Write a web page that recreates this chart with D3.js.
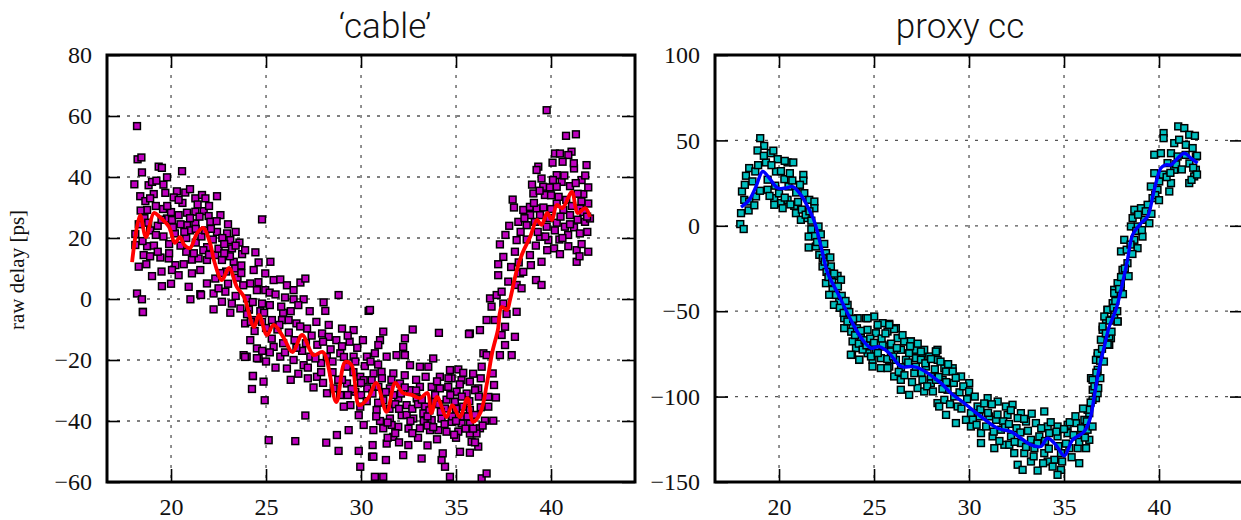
<!DOCTYPE html>
<html>
<head>
<meta charset="utf-8">
<script src="https://cdn.jsdelivr.net/npm/d3@7"></script>
<style>
  html, body { margin: 0; padding: 0; background: #fff; }
  svg { display: block; }
</style>
</head>
<body>
<div id="chart"></div>
<script>
// ---- Data ----
const titles = ['\u2018cable\u2019', 'proxy cc'];
const xTicks = [20, 25, 30, 35, 40];
const cableYTicks = [-60, -40, -20, 0, 20, 40, 60, 80];
const proxyYTicks = [-150, -100, -50, 0, 50, 100];

// raw 'cable' delay samples [temperature, ps]
const cablePoints = [
  [18.21,56.7],[18.24,45.8],[18.44,46.4],[18.47,41.5],[18.07,37.6],[19.35,43.4],[19.52,43.0],[20.58,41.9],
  [19.79,39.9],[18.82,37.3],[19.0,38.4],[19.23,38.8],[18.38,33.7],[18.65,32.1],[19.09,34.4],[19.7,34.8],
  [20.31,35.3],[20.75,34.9],[20.14,33.3],[21.28,33.0],[21.63,34.1],[21.81,33.0],[22.42,33.7],[19.58,29.5],
  [18.74,29.2],[20.84,28.3],[21.28,28.6],[21.72,28.8],[21.98,27.2],[19.79,26.4],[20.05,25.9],[20.84,24.2],
  [21.28,24.8],[22.07,25.3],[22.42,22.0],[22.95,21.5],[24.79,26.1],[18.12,21.3],[18.12,17.7],[18.74,17.3],
  [18.56,14.4],[18.3,10.6],[18.7,11.4],[19.44,13.6],[19.88,13.3],[20.23,11.1],[20.67,11.4],[21.1,12.9],
  [21.45,13.3],[21.89,12.8],[20.05,9.5],[20.4,7.8],[21.1,8.4],[21.54,9.5],[22.33,14.4],[22.68,12.8],
  [23.12,19.3],[23.21,16.6],[23.74,14.7],[23.3,12.2],[23.38,10.0],[21.89,5.1],[22.33,6.7],[20.93,4.0],
  [19.52,4.2],[18.21,1.8],[18.47,-0.1],[18.52,-4.2],[21.02,-0.1],[21.54,1.6],[22.24,1.8],[22.24,-3.4],
  [22.68,-0.9],[22.86,2.4],[23.12,-4.5],[23.65,-3.1],[24.0,0.2],[24.44,15.3],[24.61,12.0],[24.96,8.4],
  [25.23,12.2],[24.35,9.5],[24.17,5.1],[24.52,2.9],[24.79,-1.5],[24.96,2.9],[25.19,2.1],[25.4,6.2],
  [25.75,6.4],[26.1,4.5],[26.45,2.9],[26.81,5.4],[27.07,6.7],[26.98,-0.1],[26.45,-0.1],[28.03,-1.1],
  [28.12,-3.9],[28.82,1.3],[30.4,-3.9],[24.35,-6.9],[24.79,-7.5],[25.31,-6.9],[25.84,-6.9],[26.19,-6.9],
  [26.6,-8.0],[27.16,-9.7],[27.65,-7.5],[27.95,-11.3],[28.3,-12.4],[29.0,-9.7],[29.61,-10.2],[24.17,-13.5],
  [24.52,-16.2],[23.98,-18.9],[23.82,-18.4],[24.61,-19.5],[25.4,-15.7],[25.75,-18.9],[26.1,-22.8],[26.45,-20.0],
  [26.98,-21.7],[27.33,-18.9],[27.68,-25.5],[28.21,-30.9],[28.56,-29.3],[28.91,-17.8],[29.26,-22.2],[29.61,-18.9],
  [29.96,-25.5],[30.31,-18.9],[30.66,-24.4],[24.31,-25.3],[24.87,-27.1],[24.26,-29.5],[24.93,-33.2],[27.07,-38.2],
  [29.44,-34.8],[29.88,-38.1],[30.14,-41.3],[29.35,-43.0],[28.73,-44.6],[28.17,-47.1],[28.82,-49.8],[29.88,-49.8],
  [25.14,-46.3],[26.54,-46.6],[29.96,-55.0],[30.58,-51.7],[29.26,-27.7],[29.7,-30.4],[30.14,-26.6],[30.33,-29.3],
  [29.96,-35.3],[29.09,-35.3],[23.89,-19.0],[24.52,-19.4],[24.31,-25.2],[21.58,1.3],[18.52,-4.3],
  [39.77,61.9],[40.79,53.5],[41.31,54.0],[40.21,47.7],[40.47,47.7],[41.08,48.3],[40.91,47.2],[39.33,43.4],
  [39.24,42.3],[40.08,44.7],[40.61,45.0],[41.21,42.8],[41.87,43.9],[40.3,40.6],[41.61,39.0],[40.56,38.4],
  [39.59,36.8],[39.94,36.6],[40.3,36.8],[41.0,37.0],[41.7,34.4],[41.96,36.6],[39.07,34.6],[39.68,34.1],
  [37.98,32.6],[38.05,30.0],[38.54,29.2],[38.89,30.2],[39.24,29.7],[39.42,27.5],[40.3,31.3],[40.65,29.2],
  [41.0,27.5],[41.52,29.7],[41.96,31.3],[38.28,25.3],[38.72,24.2],[39.15,25.3],[39.77,23.7],[40.3,25.0],
  [40.73,23.7],[41.21,23.5],[41.79,25.3],[42.05,26.4],[41.52,21.5],[41.91,22.0],[38.19,19.3],[38.72,19.5],
  [39.42,20.4],[39.86,19.3],[40.16,16.6],[40.44,19.5],[40.91,17.3],[41.35,16.0],[41.61,18.0],[41.96,15.5],
  [40.47,14.7],[41.35,12.2],[37.31,17.9],[37.49,13.8],[37.22,11.4],[38.89,14.4],[38.94,11.1],[39.5,12.2],
  [37.22,7.8],[38.37,8.4],[38.54,8.9],[37.75,5.7],[38.19,4.6],[38.45,3.5],[39.21,6.2],[39.5,4.6],
  [36.79,0.2],[37.14,1.3],[37.4,2.4],[36.87,-2.5],[37.49,-1.5],[37.66,-4.9],[38.19,-4.2],[36.61,-6.9],
  [37.05,-6.9],[37.58,-9.1],[37.4,-11.8],[38.1,-12.4],[36.26,-10.2],[35.73,-11.3],[37.58,-15.1],[37.31,-18.4],
  [37.93,-18.4],[36.44,-17.8],[36.61,-18.4],[36.35,-22.2],[36.93,-24.4],[37.0,-28.2],[36.7,-32.1],[37.1,-32.3],
  [36.7,-35.3],[36.96,-39.9],[36.52,-39.9],[36.26,-42.4],[36.08,-44.1],[35.82,-46.8],[36.17,-48.4],[35.73,-50.4],
  [36.35,-58.8],[36.61,-57.2],[35.21,-50.1],[34.68,-58.3],[34.42,-55.0],[34.24,-52.8],[34.3,-50.6],[33.19,-52.3],
  [32.22,-51.2],[32.49,-47.9],[31.31,-52.8],[31.35,-47.4],[30.73,-58.3],[31.17,-58.3],[30.65,-51.7],[30.61,-47.9],
  [31.7,-45.2],[30.47,-3.6],[31.17,-10.7],[31.0,-13.5],[30.91,-15.1],[32.31,-12.9],[32.22,-15.7],[32.72,-10.0],
  [34.1,-11.1],[35.68,-11.5],[30.73,-17.8],[31.35,-18.9],[31.87,-18.4],[32.31,-18.4],[31.08,-23.9],[31.7,-24.4],
  [32.58,-21.7],[33.1,-22.2],[33.54,-22.2],[33.8,-19.5],[34.15,-25.5],[34.68,-23.3],[35.12,-23.1],[35.38,-24.2],
  [34.77,-26.0],[35.29,-26.6],[35.73,-27.1],[36.17,-29.3],[30.56,-26.6],[30.91,-28.8],[31.52,-29.3],[32.05,-27.7],
  [32.58,-29.9],[33.1,-28.8],[33.72,-28.8],[34.15,-29.3],[34.59,-28.8],[35.03,-30.4],[35.56,-31.0],[36.0,-29.9],
  [31.17,-33.2],[31.96,-32.6],[32.4,-34.8],[32.93,-32.6],[33.37,-35.3],[33.89,-33.7],[34.42,-35.9],[34.94,-33.7],
  [35.38,-35.3],[35.73,-36.4],[30.82,-36.4],[31.52,-39.2],[32.14,-38.1],[32.75,-39.2],[33.28,-37.5],[33.72,-39.7],
  [34.24,-39.2],[34.77,-40.3],[35.29,-40.8],[35.73,-40.8],[31.17,-42.4],[31.96,-41.9],[33.1,-42.4],[33.63,-43.0],
  [34.07,-43.0],[35.12,-43.5],[35.73,-44.1],[30.65,-43.0],[31.61,-41.3],
  [18.3,24.5],[18.5,19.0],[18.9,22.5],[19.1,17.5],[19.3,24.0],[19.6,20.5],[19.9,18.0],[20.2,21.5],
  [20.5,24.5],[20.8,20.0],[21.0,22.5],[21.3,18.5],[21.6,20.5],[21.9,17.0],[22.2,19.5],[22.5,16.5],
  [22.7,20.0],[18.6,26.5],[19.2,30.5],[20.0,28.5],[20.6,31.5],[21.4,31.0],[22.0,30.5],[22.6,27.5],
  [23.0,24.5],[23.4,22.0],[23.6,18.5],[23.9,16.0],[18.9,14.0],[19.5,9.0],[20.8,15.5],[21.7,16.0],
  [22.9,9.0],[23.5,7.0],[23.8,4.5],[22.5,3.5],[20.0,5.0],[19.0,7.5],
  [24.1,-3.5],[24.4,-10.5],[24.7,-4.0],[25.0,-9.5],[25.3,-13.0],[25.6,-10.0],[25.9,-4.5],[26.2,-11.0],
  [26.5,-13.5],[26.8,-9.0],[27.1,-14.5],[27.4,-12.0],[27.7,-15.0],[28.0,-14.0],[28.4,-16.5],[28.7,-13.5],
  [29.0,-15.5],[29.4,-14.0],[29.8,-16.0],[30.1,-13.5],[25.0,-20.5],[25.5,-22.5],[26.0,-17.5],[26.7,-24.5],
  [27.2,-26.0],[27.9,-21.0],[28.5,-24.0],[29.0,-26.5],[29.6,-24.0],[30.2,-22.0],[24.8,-17.0],[26.3,-26.5],
  [27.5,-29.0],[28.0,-27.5],[28.9,-31.5],[29.5,-29.5],[30.0,-31.5],[23.9,-8.0],[25.8,-2.5],[27.3,-4.0],
  [30.6,-31.0],[30.9,-34.0],[31.3,-30.5],[31.5,-36.0],[31.8,-34.5],[32.1,-31.0],[32.4,-38.0],[32.7,-36.0],
  [33.0,-34.5],[33.3,-40.0],[33.6,-36.5],[33.9,-31.5],[34.2,-37.0],[34.5,-33.0],[34.8,-38.5],[35.0,-36.0],
  [35.4,-38.5],[35.7,-33.5],[36.0,-38.0],[36.3,-35.5],[31.0,-40.0],[31.8,-44.0],[32.5,-42.5],[33.0,-45.5],
  [33.5,-41.5],[34.0,-46.0],[34.5,-43.5],[35.0,-45.5],[35.5,-42.5],[36.0,-47.0],[30.9,-21.5],[31.6,-26.5],
  [32.3,-25.0],[32.9,-26.5],[33.4,-25.5],[34.0,-27.0],[34.6,-26.0],[35.2,-28.0],[35.9,-24.5],[36.3,-26.0],
  [33.5,-48.0],[32.0,-47.0],
  [38.4,22.0],[38.9,27.5],[39.3,22.0],[39.6,30.0],[39.9,26.5],[40.2,22.5],[40.5,27.0],[40.8,32.5],
  [41.1,30.5],[41.4,26.0],[41.7,28.5],[39.0,37.5],[39.5,39.5],[40.0,34.0],[40.7,40.5],[41.3,38.0],
  [41.8,40.5],[39.8,16.0],[40.9,21.0],[41.5,14.0],[37.8,24.0],[38.1,15.5],[37.6,21.0],[37.9,10.5],
  [18.4,29.0],[18.8,25.0],[19.2,21.0],[19.5,26.0],[19.8,30.5],[20.1,23.5],[20.4,27.5],[20.7,22.0],
  [21.0,26.5],[21.3,23.0],[21.5,27.0],[21.8,22.5],[22.1,23.0],[22.4,25.5],[22.8,18.0],[23.1,14.0],
  [23.4,17.5],[23.7,11.0],[19.3,15.5],[19.9,15.0],[20.5,17.5],[21.2,15.0],[22.0,14.5],[22.8,15.0],
  [18.9,33.0],[20.4,32.5],[21.0,36.0],[19.6,37.5],
  [22.6,8.5],[23.0,5.0],[23.4,1.0],[23.7,8.5],[24.0,-5.0],[24.3,-1.0],[24.6,5.5],[24.9,-4.5],
  [25.2,-2.0],[25.5,1.5],[25.7,-8.5],[26.0,0.5],[26.3,-4.0],[26.7,-2.0],[23.2,-1.5],[24.2,-7.5],
  [26.9,-17.0],[27.2,-22.5],[27.6,-19.5],[27.9,-24.0],[28.2,-19.0],[28.5,-20.5],[28.8,-26.5],[29.1,-19.0],
  [29.3,-31.5],[29.7,-20.5],[30.0,-27.5],[30.3,-33.5],[30.5,-20.5],[26.6,-16.0],[25.9,-14.5],[25.2,-17.5],
  [28.3,-8.5],[29.3,-12.0],
  [30.8,-38.5],[31.1,-26.0],[31.4,-40.5],[31.7,-31.5],[32.0,-36.0],[32.3,-29.0],[32.6,-40.0],[32.9,-30.0],
  [33.2,-33.0],[33.5,-38.5],[33.8,-42.0],[34.1,-34.5],[34.4,-41.0],[34.7,-31.5],[35.0,-40.0],[35.3,-32.0],
  [35.6,-38.5],[35.9,-42.5],[36.2,-32.0],[36.4,-41.5],[32.7,-44.0],[34.9,-44.5],[31.4,-45.5],
  [38.6,26.5],[39.1,31.5],[39.4,35.5],[39.7,20.5],[40.0,29.5],[40.4,33.5],[40.6,20.0],[41.0,24.5],
  [41.2,44.5],[41.6,32.0],[41.9,27.0],[39.2,17.5],[38.3,12.0],[40.1,39.0],[41.4,34.5]
];

// smoothed 'cable' curve
const cableFit = [
  [17.95,12.1],[18.37,27.5],[18.68,20.3],[19.1,28.2],[19.4,26.9],[19.9,23.6],[20.2,18.4],[20.47,20.3],
  [20.7,17.7],[21.0,16.7],[21.37,21.6],[21.7,23.3],[22.05,18.4],[22.3,11.8],[22.68,6.2],[23.05,10.2],
  [23.47,3.9],[23.84,0.7],[24.37,-9.2],[24.63,-5.2],[25.05,-11.8],[25.4,-8.5],[25.9,-12.4],[26.4,-17.4],
  [26.9,-11.8],[27.5,-18.4],[28.0,-17.4],[28.7,-33.8],[29.16,-20.7],[29.5,-21.6],[29.9,-34.8],[30.37,-32.5],
  [30.8,-27.5],[31.35,-37.0],[31.8,-27.5],[32.2,-30.8],[32.7,-31.5],[33.1,-32.5],[33.5,-30.8],[33.7,-37.4],
  [34.0,-32.1],[34.5,-38.7],[34.8,-34.8],[35.2,-38.7],[35.6,-32.5],[35.9,-40.3],[36.3,-37.0],[36.63,-27.5],
  [36.9,-17.7],[37.2,-10.2],[37.4,-2.6],[37.68,-3.6],[37.84,-0.3],[38.2,9.5],[38.5,15.1],[38.9,20.3],
  [39.26,25.9],[39.5,24.3],[39.8,28.2],[40.05,25.9],[40.3,30.8],[40.6,29.8],[41.1,35.1],[41.4,28.2],
  [41.8,29.8],[42.05,26.9]
];

// proxy cc samples [temperature, ps]
const proxyPoints = [
  [19.01,51.3],[19.22,46.8],[18.87,44.1],[19.57,42.5],[19.93,39.0],[20.45,37.1],[20.75,37.1],[18.43,33.8],
  [18.26,29.3],[18.75,31.8],[19.31,37.1],[19.84,31.8],[20.28,27.3],[20.57,30.8],[21.28,29.8],[21.28,26.5],
  [18.05,20.1],[18.17,15.2],[18.43,14.2],[18.79,17.2],[19.4,21.1],[19.75,16.2],[20.1,13.3],[20.45,15.2],
  [20.8,11.7],[20.19,10.3],[19.75,12.3],[20.89,7.4],[21.15,3.5],[21.33,19.1],[21.59,15.2],[21.86,14.2],
  [21.86,10.3],[21.5,4.5],[17.96,1.0],[18.14,-1.9],[18.0,7.4],[22.08,-0.4],[21.56,-6.3],[21.56,-12.7],
  [21.94,-12.1],[22.38,-10.6],[22.12,-17.0],[22.47,-16.0],[22.73,-23.8],[22.29,-23.8],[23.08,-29.3],[23.26,-31.6],
  [22.47,-33.6],[22.82,-37.5],[22.64,-40.4],[23.17,-44.3],[23.61,-46.3],[22.89,-46.3],[23.43,-54.1],[23.87,-59.0],
  [23.43,-59.9],[24.14,-54.1],[24.57,-54.1],[25.01,-53.1],[25.45,-57.0],[25.8,-57.4],[26.15,-59.9],[24.66,-60.9],
  [25.1,-62.9],[25.71,-61.9],[26.24,-65.8],[26.59,-67.7],[26.94,-67.7],[23.87,-67.7],[24.31,-65.8],[24.05,-71.6],
  [24.66,-74.6],[25.1,-72.6],[25.54,-70.7],[25.89,-73.6],[26.42,-72.6],[26.85,-74.6],[27.21,-72.6],[27.56,-74.6],
  [28.26,-73.6],[28.35,-78.5],[23.84,-75.6],[24.22,-78.5],[24.92,-78.5],[25.36,-77.5],[26.15,-78.5],[26.68,-78.5],
  [27.21,-77.5],[27.91,-76.5],[24.92,-82.4],[25.8,-82.4],[26.42,-82.8],[28.7,-83.4],[29.14,-83.4],
  [23.78,-75.5],[24.22,-78.4],[24.84,-76.5],[25.36,-83.3],[25.71,-83.3],[26.06,-88.2],[26.41,-96.0],[26.85,-99.0],
  [27.29,-95.0],[27.64,-97.0],[27.99,-92.1],[28.34,-103.8],[26.41,-90.2],[27.12,-86.3],[27.55,-90.2],[27.99,-88.2],
  [25.45,-69.7],[26.06,-60.5],[25.8,-58.0],[25.19,-58.0],[24.66,-54.1],[26.59,-67.7],[26.94,-67.7],[27.64,-72.6],
  [28.34,-72.6],[27.47,-78.4],
  [27.47,-73.6],[28.26,-73.6],[27.73,-82.4],[28.26,-90.2],[28.61,-90.2],[28.79,-85.3],[29.14,-85.3],[29.58,-88.2],
  [30.01,-92.1],[28.87,-96.0],[29.22,-99.9],[28.7,-101.9],[29.4,-105.8],[28.43,-105.8],[28.79,-110.7],[29.31,-115.5],
  [29.84,-113.6],[30.1,-109.7],[30.45,-105.8],[30.98,-100.9],[31.51,-102.9],[31.94,-105.8],[32.29,-104.8],[32.73,-109.7],
  [30.54,-111.6],[31.07,-111.6],[31.42,-113.6],[32.03,-110.7],[32.56,-112.6],[33.0,-114.6],[33.52,-115.5],[33.96,-108.7],
  [34.14,-117.5],[34.66,-117.5],[35.19,-116.5],[35.63,-115.5],[36.07,-113.6],[36.33,-109.7],[30.1,-117.5],[30.63,-121.4],
  [31.24,-123.3],[31.68,-119.4],[32.21,-123.3],[32.73,-127.2],[33.26,-125.3],[33.7,-123.3],[34.22,-121.4],[34.66,-123.3],
  [35.19,-121.4],[35.72,-123.3],[36.24,-119.4],[36.33,-125.3],[30.63,-127.2],[31.33,-130.2],[31.86,-128.2],[32.38,-133.1],
  [32.91,-133.1],[33.44,-130.2],[33.96,-133.1],[34.49,-137.0],[34.84,-133.1],[35.28,-130.2],[35.72,-130.2],[36.16,-130.2],
  [32.56,-139.9],[33.26,-138.0],[33.61,-143.3],[32.82,-142.9],[34.84,-142.9],[34.66,-145.8],[35.8,-139.0],[34.14,-138.0],
  [32.12,-128.2],[36.59,-90.2],[36.77,-84.3],[36.86,-74.5],[36.94,-66.7],[37.03,-60.9],[37.21,-55.0],[37.29,-49.2],
  [37.56,-45.3],[37.82,-56.0],[37.47,-65.8],[37.38,-69.7],[36.77,-76.5],[36.42,-89.2],[36.68,-100.9],[36.24,-107.7],
  [36.51,-96.0],[37.64,-37.5],[37.99,-34.5],
  [41.01,58.2],[41.33,57.2],[41.59,53.3],[41.89,52.7],[40.24,54.3],[40.24,51.3],[40.8,48.4],[41.06,50.4],
  [41.41,47.4],[41.77,45.5],[39.75,41.6],[40.1,42.5],[40.63,42.5],[40.98,40.6],[41.94,40.6],[41.94,32.8],
  [41.85,28.9],[41.59,25.0],[41.71,26.9],[40.8,32.8],[40.45,36.7],[40.63,25.0],[40.54,20.1],[40.01,26.0],
  [39.75,30.8],[39.57,23.0],[39.92,21.1],[39.66,16.2],[39.4,12.3],[38.7,9.4],[39.05,10.3],[38.61,4.5],
  [39.22,3.5],[39.49,1.5],[38.87,-0.4],[38.52,-0.4],[39.13,-6.3],[38.7,-8.2],[38.17,-8.2],[38.87,-13.1],
  [38.0,-15.0],[38.34,-21.9],[38.08,-25.8],[37.82,-33.6],[37.64,-39.4],[37.99,-39.4],[37.29,-49.2],[37.12,-53.1],
  [37.03,-59.0],[37.64,-53.1],[37.82,-56.0],[37.38,-64.8],[36.77,-74.6],[36.68,-78.5],[36.5,-90.2],[36.91,-89.2],
  [36.77,-98.0],[36.5,-101.9],
  [21.7,-2.0],[21.9,-6.0],[22.0,-9.5],[22.2,-5.0],[22.3,-19.0],[22.4,-21.0],[22.5,-27.0],[22.6,-30.0],
  [22.7,-18.5],[22.8,-33.0],[22.9,-28.0],[23.0,-40.5],[23.1,-35.5],[23.2,-48.0],[23.3,-41.0],[23.4,-51.0],
  [23.5,-44.0],[23.6,-56.0],[23.7,-50.5],[23.8,-62.0],[23.9,-54.5],[24.0,-64.0],[24.1,-60.0],[24.2,-69.0],
  [24.3,-61.5],[24.4,-72.5],[24.5,-67.0],
  [24.6,-70.0],[24.8,-66.0],[25.0,-68.5],[25.2,-74.5],[25.4,-66.0],[25.6,-63.0],[25.7,-78.0],[25.9,-69.0],
  [26.0,-76.5],[26.2,-71.5],[26.3,-85.5],[26.5,-64.0],[26.6,-87.5],[26.8,-80.0],[26.9,-70.5],[27.0,-91.5],
  [27.2,-82.5],[27.3,-69.0],[27.5,-86.0],[27.7,-80.5],[27.8,-94.0],[28.0,-78.0],[28.1,-97.0],[28.2,-84.0],
  [28.4,-88.5],[28.5,-79.5],[28.6,-95.5],[28.8,-91.5],[28.9,-81.0],[29.0,-104.5],[29.2,-92.0],[29.3,-89.0],
  [29.5,-97.5],[29.6,-107.0],[29.7,-94.0],[29.9,-101.5],[30.0,-97.0],[30.2,-113.5],[30.3,-100.0],[30.4,-116.5],
  [30.6,-107.5],[30.8,-104.0],[30.9,-117.5],[31.0,-109.5],[31.2,-104.5],[31.3,-120.5],[31.5,-110.5],[31.6,-126.0],
  [31.8,-114.5],[31.9,-118.0],[32.1,-116.0],[32.2,-108.0],[32.4,-126.5],[32.5,-118.5],[32.7,-121.0],[32.9,-113.0],
  [33.0,-129.5],[33.1,-120.0],[33.3,-110.0],[33.4,-135.0],[33.6,-127.5],[33.8,-118.5],[33.9,-139.0],[34.0,-126.0],
  [34.2,-130.5],[34.3,-115.0],[34.4,-141.0],[34.6,-120.5],[34.7,-129.0],[34.9,-138.0],[35.0,-119.0],[35.1,-127.5],
  [35.3,-115.0],[35.4,-135.5],[35.5,-122.5],[35.6,-111.5],[35.8,-126.5],[35.9,-118.5],[36.0,-107.0],[36.1,-124.0],
  [36.2,-114.5],[36.4,-103.5],[36.5,-117.5],
  [36.6,-94.0],[36.7,-86.0],[36.8,-95.0],[36.9,-79.0],[37.0,-72.0],[37.1,-79.5],[37.2,-63.0],[37.3,-69.5],
  [37.4,-55.5],[37.5,-62.0],[37.6,-48.0],[37.7,-44.0],[37.8,-50.0],[37.9,-37.0],[38.0,-30.0],[38.1,-40.0],
  [38.2,-25.0],[38.3,-14.0],[38.4,-29.5],[38.5,-11.0],[38.6,-16.5],[38.8,-3.0],[38.9,6.5],[39.1,-2.5],
  [39.3,8.5],[39.6,7.0],[39.8,18.0],[40.0,15.0],[40.2,30.0],[40.4,28.5],[40.6,31.0],[40.9,36.0],
  [41.2,33.0],[41.4,41.5],[41.6,36.5],[41.8,34.0],[42.0,41.0],[42.0,30.0],
  [18.2,24.0],[18.4,9.0],[18.6,26.0],[18.7,12.0],[18.9,35.5],[19.0,20.5],[19.2,41.0],[19.4,27.0],
  [19.5,17.5],[19.6,35.5],[19.8,23.5],[20.0,19.0],[20.1,32.0],[20.3,16.5],[20.5,23.0],[20.6,12.5],
  [20.7,26.5],[20.9,19.5],[21.0,14.0],[21.1,24.0],[21.2,9.5],[21.4,6.5],[21.6,8.5],[21.7,3.0],
  [20.3,38.0],[19.7,44.0]
];

// smoothed proxy cc curve
const proxyFit = [
  [18.0,10.9],[18.43,15.2],[18.79,23.0],[19.14,31.8],[19.49,27.9],[19.93,22.1],[20.36,22.1],[20.72,23.0],
  [21.15,18.1],[21.5,11.3],[21.86,2.5],[22.21,-12.1],[22.56,-27.7],[23.0,-37.5],[23.43,-47.2],[23.87,-57.0],
  [24.4,-66.8],[24.84,-71.6],[25.28,-70.7],[25.8,-74.6],[26.42,-82.4],[27.03,-82.4],[27.38,-83.4],[28.52,-92.1],
  [29.05,-98.0],[29.75,-103.9],[30.63,-111.7],[31.5,-118.5],[32.2,-120.5],[32.73,-124.4],[33.26,-128.3],[33.78,-129.2],
  [34.13,-124.4],[34.57,-128.3],[35.01,-134.7],[35.45,-125.3],[36.06,-120.5],[36.38,-112.6],[36.59,-99.9],[36.85,-83.4],
  [37.12,-70.7],[37.38,-59.0],[37.73,-49.2],[38.08,-33.6],[38.34,-19.9],[38.61,-5.3],[39.05,1.5],[39.4,5.5],
  [39.75,21.1],[40.1,33.8],[40.36,35.7],[40.63,35.7],[40.98,39.6],[41.33,42.5],[41.68,39.6],[42.03,36.7]
];

// ---- Layout ----
const W = 1241, H = 520;
const svg = d3.select('#chart').append('svg')
  .attr('width', W).attr('height', H)
  .style('background', '#fff');

const serifFont = "'Liberation Serif'";
const titleFont = "'Roboto'";

function drawPanel(cfg) {
  const { left, top, width, height } = cfg;
  const g = svg.append('g').attr('transform', `translate(${left},${top})`);

  const x = d3.scaleLinear().domain([16.63, 44.42]).range([0, width]);
  const y = d3.scaleLinear().domain(cfg.yDomain).range([height, 0]);

  // ---- Grid ----
  const grid = g.append('g')
    .attr('stroke', '#555').attr('stroke-width', 1.3).attr('stroke-dasharray', '3,7');
  grid.selectAll('.gx').data(xTicks).enter().append('line')
    .attr('x1', d => x(d)).attr('x2', d => x(d))
    .attr('y1', 0).attr('y2', height);
  grid.selectAll('.gy').data(cfg.yTicks).enter().append('line')
    .attr('x1', 0).attr('x2', width)
    .attr('y1', d => y(d)).attr('y2', d => y(d));

  // ---- Axes (ticks point inwards) ----
  const fmt = d3.format('d');
  const styleAxis = sel => {
    sel.attr('font-family', null).attr('font-size', null);
    sel.select('.domain').remove();
    sel.selectAll('.tick line').attr('stroke', '#000').attr('stroke-width', 1.6);
    sel.selectAll('text')
      .attr('fill', '#111')
      .style('font-family', serifFont)
      .style('font-size', '24px');
  };
  g.append('g').attr('transform', `translate(0,${height})`)
    .call(d3.axisBottom(x).tickValues(xTicks).tickSize(-13).tickPadding(16).tickFormat(fmt))
    .call(styleAxis);
  g.append('g')
    .call(d3.axisTop(x).tickValues(xTicks).tickSize(-13).tickFormat(''))
    .call(styleAxis);
  g.append('g')
    .call(d3.axisLeft(y).tickValues(cfg.yTicks).tickSize(-13).tickPadding(15).tickFormat(fmt))
    .call(styleAxis);
  g.append('g').attr('transform', `translate(${width},0)`)
    .call(d3.axisRight(y).tickValues(cfg.yTicks).tickSize(-13).tickFormat(''))
    .call(styleAxis);

  // ---- Points ----
  const clipId = 'clip-' + cfg.id;
  g.append('clipPath').attr('id', clipId)
    .append('rect').attr('width', width).attr('height', height);
  const plot = g.append('g').attr('clip-path', `url(#${clipId})`);
  const s = 6.8;
  plot.append('g').selectAll('rect')
    .data(cfg.points).enter().append('rect')
    .attr('x', d => x(d[0]) - s / 2)
    .attr('y', d => y(d[1]) - s / 2)
    .attr('width', s).attr('height', s)
    .attr('fill', cfg.fill)
    .attr('stroke', '#000')
    .attr('stroke-width', 1.5);

  // ---- Smoothed curve ----
  const line = d3.line()
    .x(d => x(d[0])).y(d => y(d[1]))
    .curve(d3.curveCatmullRom.alpha(0.5));
  plot.append('path')
    .datum(cfg.fit)
    .attr('d', line)
    .attr('fill', 'none')
    .attr('stroke', cfg.lineColor)
    .attr('stroke-width', cfg.lineWidth)
    .attr('stroke-linejoin', 'round');

  // ---- Frame ----
  g.append('rect')
    .attr('width', width).attr('height', height)
    .attr('fill', 'none').attr('stroke', '#000').attr('stroke-width', 3);

  // ---- Title ----
  svg.append('text')
    .attr('x', cfg.titleX).attr('y', 38)
    .attr('text-anchor', 'middle')
    .style('font-family', titleFont)
    .style('font-weight', 300)
    .style('font-size', '35px')
    .attr('fill', '#111')
    .text(cfg.title);
}

drawPanel({
  id: 'cable', left: 107, top: 55, width: 528, height: 427,
  yDomain: [-60, 80], yTicks: cableYTicks,
  points: cablePoints, fit: cableFit,
  fill: '#bf00bf', lineColor: '#ff0000', lineWidth: 3.8,
  title: titles[0], titleX: 385
});

drawPanel({
  id: 'proxy', left: 715, top: 55, width: 528, height: 427,
  yDomain: [-150, 100], yTicks: proxyYTicks,
  points: proxyPoints, fit: proxyFit,
  fill: '#00bfbf', lineColor: '#0000ff', lineWidth: 3.4,
  title: titles[1], titleX: 960
});

// ---- Y-axis label (left panel only) ----
svg.append('text')
  .attr('transform', 'translate(24,270) rotate(-90)')
  .attr('text-anchor', 'middle')
  .style('font-family', serifFont)
  .style('font-size', '21px')
  .attr('fill', '#111')
  .text('raw delay [ps]');
</script>
</body>
</html>
